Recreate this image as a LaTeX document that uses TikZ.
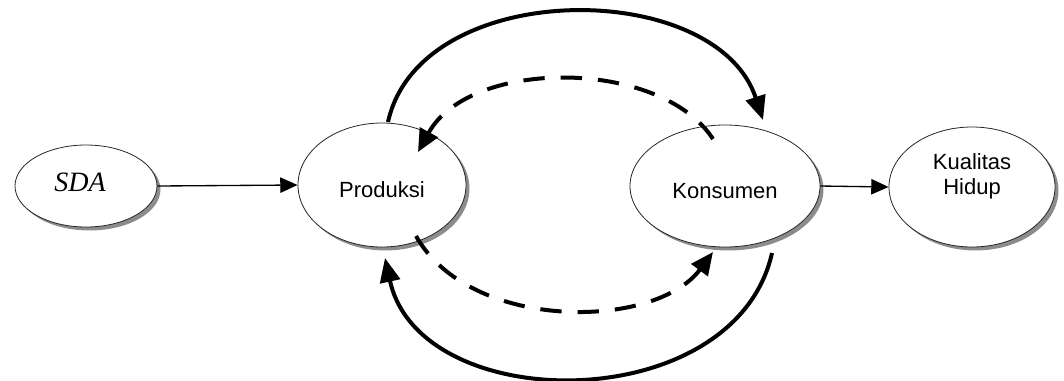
\documentclass[tikz,border=0pt]{standalone}
\usepackage{fontspec}
\setmainfont{Liberation Sans}
\newfontfamily\serifit{Liberation Serif}
\usetikzlibrary{arrows.meta,shapes.geometric,shadows,calc}
\begin{document}
\begin{tikzpicture}[x=0.75pt,y=-0.75pt,
  bubble/.style={ellipse,draw=black!85,line width=0.6pt,fill=white,inner sep=0pt,
    drop shadow={shadow xshift=2.6pt,shadow yshift=-2.6pt,fill=black!45,opacity=1},
    font=\fontsize{16.5}{18.75}\selectfont,align=center},
  thinarrow/.style={line width=1pt,-{Triangle[length=13pt,width=11.5pt]}},
  bigarc/.style={line width=3pt,-{Triangle[length=18pt,width=15pt]}},
  dasharc/.style={line width=3pt,dash pattern=on 16pt off 12pt,-{Triangle[length=17pt,width=15pt]}}
]
\useasboundingbox[fill=white] (0,0) rectangle (1064,380);

\node[bubble,minimum width=106.5pt,minimum height=61.5pt] (S) at (86,186)
  {\hbox{\raisebox{-4pt}[0pt][0pt]{\fontsize{21}{24}\selectfont\serifit\itshape SDA}\kern9pt}};
\node[bubble,minimum width=126pt,minimum height=93pt] (P) at (382,185)
  {\raisebox{-9pt}[0pt][0pt]{Produksi}};
\node[bubble,minimum width=142.5pt,minimum height=91.5pt] (K) at (725,186)
  {\raisebox{-9pt}[0pt][0pt]{Konsumen}};
\node[bubble,minimum width=124.5pt,minimum height=90pt] (Q) at (972,187)
  {\raisebox{3pt}[0pt][0pt]{\begin{tabular}{@{}c@{}}Kualitas\\Hidup\end{tabular}}};

% endpoints of the arcs
\coordinate (a1) at ($(P.center)+(6,-63)$);
\coordinate (a2) at ($(K.center)+(38,-66)$);
\coordinate (b1) at ($(K.center)+(-12,-47)$);
\coordinate (b2) at ($(P.center)+(36,-33)$);
\coordinate (c1) at ($(P.center)+(34,51)$);
\coordinate (c2) at ($(K.center)+(-12,66)$);
\coordinate (d1) at ($(K.center)+(47,67)$);
\coordinate (d2) at ($(P.center)+(3,73)$);

\draw[thinarrow] (S.east) -- (P.west);
\draw[thinarrow] (K.east) -- (Q.west);

\draw[bigarc] (a1) .. controls (420,-23) and (716,-23) .. (a2);
\draw[dasharc] (b1) .. controls (660,58) and (470,58) .. (b2);
\draw[dasharc] (c1) .. controls (470,332) and (655,330) .. (c2);
\draw[bigarc] (d1) .. controls (735,418) and (420,418) .. (d2);
\end{tikzpicture}
\end{document}
